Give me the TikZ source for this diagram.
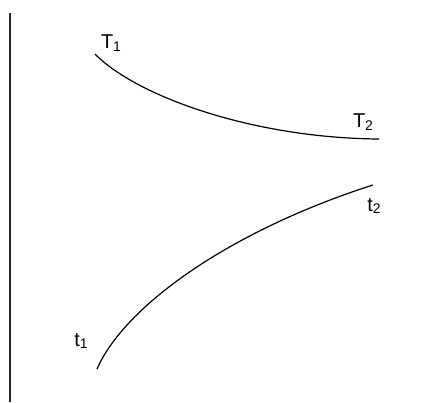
\documentclass[tikz,border=0pt]{standalone}
\usepackage{fontspec}
\setmainfont{Liberation Sans}
\usetikzlibrary{positioning}
\newcommand{\lsub}[1]{\raisebox{-2.5pt}{\fontsize{14}{14}\selectfont #1}}

\begin{document}
\begin{tikzpicture}[
  x=1pt, y=-1pt,
  curve/.style = {line width=1.2pt, black},
  axisline/.style = {line width=2.4pt, black!85},
  lbl/.style = {font=\fontsize{20}{20}\selectfont, inner sep=0pt}
]
\useasboundingbox (0,0) rectangle (435,402);

%% ─── Wall ───────────────────────────────────────────────────────
\coordinate (wtop) at (10,13);
\coordinate (wbot) at (10,402);
\draw[axisline] (wtop) -- (wbot);

%% ─── Upper curve ────────────────────────────────────────────────
\coordinate (T1p) at (95,54);
\coordinate (T2p) at (379,139);
\draw[curve] (T1p) .. controls (135,95) and (250,138) .. (T2p);

%% ─── Lower curve ────────────────────────────────────────────────
\coordinate (t1p) at (97,369);
\coordinate (t2p) at (373,185);
\draw[curve] (t1p) .. controls (125,305) and (232,230) .. (t2p);

%% ─── Labels ─────────────────────────────────────────────────────
\node[lbl] (T1) at (111,43) {T\lsub{1}};
\node[lbl] (T2) at (363,122) {T\lsub{2}};
\node[lbl] (t1) at (81,341) {t\lsub{1}};
\node[lbl] (t2) at (374,206) {t\lsub{2}};

\end{tikzpicture}
\end{document}
